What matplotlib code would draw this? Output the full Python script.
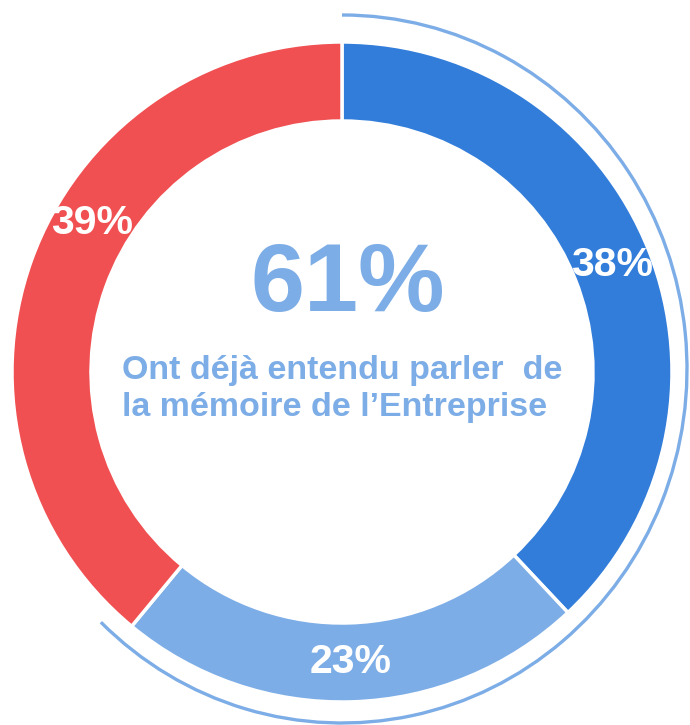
import matplotlib.pyplot as plt
from matplotlib.patches import Arc
import numpy as np

plt.rcParams['font.family'] = ['Liberation Sans', 'DejaVu Sans']

# Data
shares = [38, 23, 39]
labels = ['38%', '23%', '39%']
colors = ['#327DD9', '#7DADE6', '#F05052']
headline = '61%'
subtitle = 'Ont déjà entendu parler  de\nla mémoire de l\u2019Entreprise'
aware_share = shares[0] + shares[1]

fig = plt.figure(figsize=(6.9, 7.25), dpi=100)
ax = fig.add_axes([0, 0, 1, 1])

cx, cy = 342, 725 - 372
r_out, ring_w = 330, 79

wedges, _ = ax.pie(shares, colors=colors, startangle=90, counterclock=False,
                   radius=r_out, center=(cx, cy),
                   wedgeprops=dict(width=ring_w, edgecolor='white', linewidth=2.5))

# percentage labels on the ring
label_shift = [0, 0, -11]  # 39% sits a bit higher than its wedge middle
start = 90
for val, lab, shift in zip(shares, labels, label_shift):
    mid = np.deg2rad(start - val * 3.6 / 2 + shift)
    start -= val * 3.6
    rr = r_out - ring_w / 2
    ax.text(cx + rr * np.cos(mid), cy + rr * np.sin(mid), lab, color='white',
            fontsize=29.5, fontweight='bold', ha='center', va='center')

# outer arc for the "aware" share
arc = Arc((cx, 725 - 369), 2 * 345, 2 * 354, theta1=90 - aware_share * 3.6 - 4, theta2=90,
          color='#7DADE6', linewidth=2.4)
ax.add_patch(arc)

ax.text(cx + 6, 725 - 286, headline, color='#7DADE6', fontsize=70, fontweight='bold',
        ha='center', va='center')
ax.text(cx, 725 - 389, subtitle, color='#7DADE6', fontsize=24.5, fontweight='bold',
        ha='center', va='center', multialignment='left', linespacing=1.22)

ax.set_xlim(0, 690)
ax.set_ylim(0, 725)
ax.set_aspect('equal')
ax.axis('off')

fig.savefig('out.png', dpi=100, facecolor='white')
